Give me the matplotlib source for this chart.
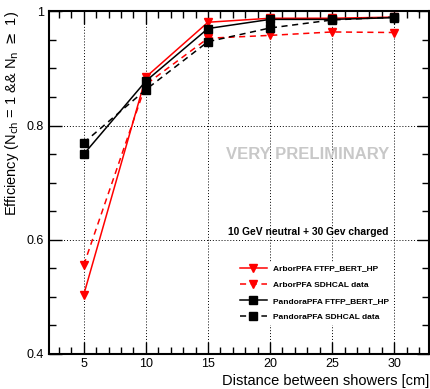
import matplotlib.pyplot as plt
from matplotlib.ticker import MultipleLocator

plt.rcParams['font.family'] = ['Liberation Sans', 'DejaVu Sans']

# Distance between showers [cm]
distance = [5, 10, 15, 20, 25, 30]

# Efficiencies
arbor_sim = [0.504, 0.885, 0.981, 0.988, 0.988, 0.990]
arbor_data = [0.556, 0.872, 0.953, 0.958, 0.964, 0.963]
pandora_sim = [0.750, 0.878, 0.970, 0.986, 0.986, 0.989]
pandora_data = [0.770, 0.863, 0.947, 0.971, 0.985, 0.990]

fig = plt.figure(figsize=(4.31, 3.89), dpi=100)
ax = fig.add_axes([0.1137, 0.09, 0.8817, 0.8807])

ax.plot(distance, arbor_sim, color="red", ls="-", lw=1.1, marker="v", ms=6,
        label="ArborPFA FTFP_BERT_HP")
ax.plot(distance, arbor_data, color="red", ls=(0, (4, 3)), lw=1.1, marker="v", ms=6,
        label="ArborPFA SDHCAL data")
ax.plot(distance, pandora_sim, color="black", ls="-", lw=1.1, marker="s", ms=6,
        label="PandoraPFA FTFP_BERT_HP")
ax.plot(distance, pandora_data, color="black", ls=(0, (4, 3)), lw=1.1, marker="s", ms=6,
        label="PandoraPFA SDHCAL data")

ax.set_xlim(2.2, 32.8)
ax.set_ylim(0.4, 1.0)
ax.xaxis.set_major_locator(MultipleLocator(5))
ax.xaxis.set_minor_locator(MultipleLocator(1))
ax.yaxis.set_minor_locator(MultipleLocator(0.05))
ax.set_yticks([0.4, 0.6, 0.8, 1.0], ["0.4", "0.6", "0.8", "1"])

ax.tick_params(which="both", direction="in", top=True, right=True, labelsize=9, width=1)
ax.tick_params(which="major", length=9)
ax.tick_params(which="minor", length=5)
ax.tick_params(axis="x", which="major", pad=3)
for s in ax.spines.values():
    s.set_linewidth(1.5)

ax.grid(True, which="major", color="black", ls=(0, (1, 2)), lw=0.7)

ax.set_xlabel("Distance between showers [cm]", fontsize=10.5, loc="right", labelpad=3)
ax.set_ylabel(r"Efficiency (N$_{\rm ch}$ = 1 && N$_{\rm n}$ $\geq$ 1)", fontsize=10.5, loc="top")

ax.text(0.68, 0.583, "VERY PRELIMINARY", transform=ax.transAxes, ha="center", va="center",
        fontsize=12, fontweight="bold", color="#c8c8c8")
ax.text(0.683, 0.356, "10 GeV neutral + 30 Gev charged", transform=ax.transAxes,
        ha="center", va="center", fontsize=7.4, fontweight="bold")

leg = ax.legend(loc="upper left", bbox_to_anchor=(0.485, 0.28), frameon=True, fancybox=False,
                edgecolor="white", framealpha=1, prop={"size": 6, "weight": "bold"},
                handlelength=3.2, labelspacing=1.0, borderpad=0.3)

fig.savefig("out.png", dpi=100)
